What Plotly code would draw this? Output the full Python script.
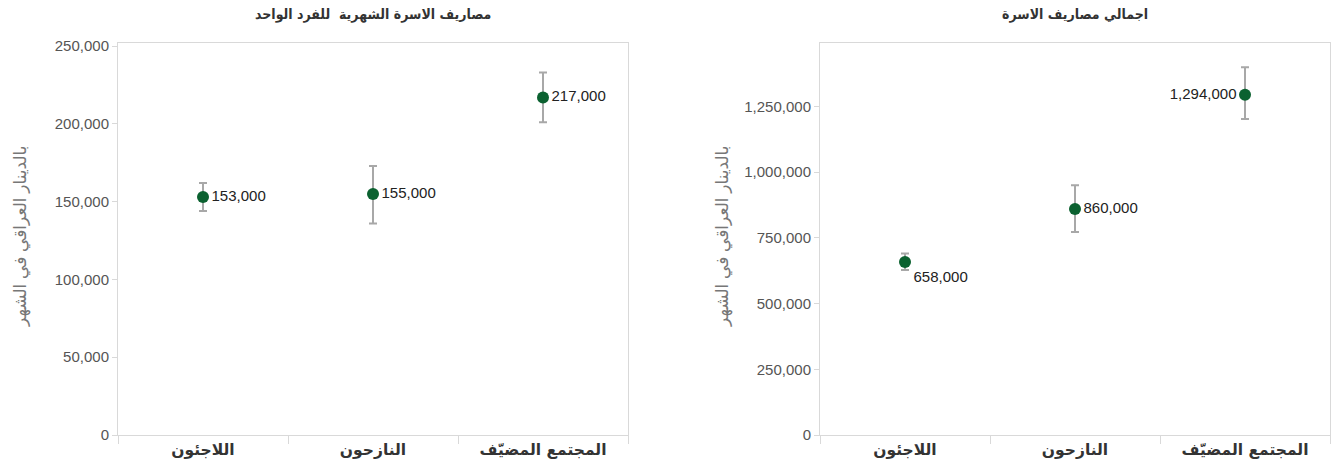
import plotly.graph_objects as go

categories = ["اللاجئون", "النازحون", "المجتمع المضيّف"]

# Per-person monthly household expenses (left panel)
per_person = [153000, 155000, 217000]
per_person_err_plus = [9000, 18000, 16000]
per_person_err_minus = [9000, 19000, 16000]
per_person_labels = ["153,000", "155,000", "217,000"]

# Total household expenses (right panel)
total = [658000, 860000, 1294000]
total_err_plus = [32000, 90000, 105000]
total_err_minus = [30000, 88000, 92000]
total_labels = ["658,000", "860,000", "1,294,000"]

left_title = "مصاريف الاسرة الشهرية  للفرد الواحد"
right_title = "اجمالي مصاريف الاسرة"
y_title = "بالدينار العراقي في الشهر"

FONT = "Arial, 'Liberation Sans', 'DejaVu Sans', sans-serif"
AR_BOLD = "'DejaVu Sans', sans-serif"
AR_COND = "'DejaVu Sans Condensed', 'DejaVu Sans', sans-serif"
GREEN = "#0b6130"
ERR = "#a8a8a8"
GRID = "#d9d9d9"

fig = go.Figure()

fig.add_trace(go.Scatter(
    x=categories, y=per_person, mode="markers+text",
    text=per_person_labels,
    textposition=["middle right", "middle right", "middle right"],
    textfont=dict(size=15, color="#222", family=FONT),
    marker=dict(size=12, color=GREEN),
    error_y=dict(type="data", symmetric=False, array=per_person_err_plus,
                 arrayminus=per_person_err_minus, color=ERR, thickness=2, width=4),
    xaxis="x", yaxis="y", showlegend=False, cliponaxis=False,
))

fig.add_trace(go.Scatter(
    x=categories, y=total, mode="markers+text",
    text=total_labels,
    textposition=["bottom right", "middle right", "middle left"],
    textfont=dict(size=15, color="#222", family=FONT),
    marker=dict(size=12, color=GREEN),
    error_y=dict(type="data", symmetric=False, array=total_err_plus,
                 arrayminus=total_err_minus, color=ERR, thickness=2, width=4),
    xaxis="x2", yaxis="y2", showlegend=False, cliponaxis=False,
))

ydom = [30 / 465, 422 / 465]
xaxis_common = dict(
    type="category", categoryorder="array", categoryarray=categories,
    tickson="boundaries", ticks="outside", ticklen=8, tickcolor=GRID,
    showline=True, linecolor=GRID, mirror=True, showgrid=False,
    tickfont=dict(size=15.5, color="#333", family=AR_BOLD), automargin=False,
    range=[-0.5, 2.5], fixedrange=True,
)
yaxis_common = dict(
    ticks="outside", ticklen=5, tickcolor=GRID, showgrid=False, zeroline=False,
    showline=True, linecolor=GRID, mirror=True, tickformat=",",
    tickfont=dict(size=15, color="#555", family=FONT), automargin=False,
    domain=ydom,
)

fig.update_layout(
    width=1338, height=465,
    margin=dict(l=0, r=0, t=0, b=0),
    paper_bgcolor="white", plot_bgcolor="white",
    font=dict(family=FONT),
    xaxis=dict(domain=[118 / 1338, 628 / 1338], anchor="y", **xaxis_common),
    yaxis=dict(anchor="x", range=[0, 252000], dtick=50000, **yaxis_common),
    xaxis2=dict(domain=[820 / 1338, 1330 / 1338], anchor="y2", **xaxis_common),
    yaxis2=dict(anchor="x2", range=[0, 1491000], dtick=250000, **yaxis_common),
)

# Bold category labels via ticktext
bold_cats = ["<b>" + c + "</b>" for c in categories]
fig.update_xaxes(tickvals=categories, ticktext=bold_cats)

fig.add_annotation(text="<b>" + left_title + "</b>", x=373 / 1338, y=1 - 15 / 465,
                   xref="paper", yref="paper", showarrow=False,
                   xanchor="center", yanchor="middle",
                   font=dict(size=14, color="#333", family=AR_COND))
fig.add_annotation(text="<b>" + right_title + "</b>", x=1075 / 1338, y=1 - 15 / 465,
                   xref="paper", yref="paper", showarrow=False,
                   xanchor="center", yanchor="middle",
                   font=dict(size=14, color="#333", family=AR_COND))
for xp in [21, 723]:
    fig.add_annotation(text=y_title, x=xp / 1338, y=1 - 236 / 465,
                       xref="paper", yref="paper", showarrow=False, textangle=-90,
                       xanchor="center", yanchor="middle",
                       font=dict(size=17, color="#777", family=FONT))

fig.write_html("out.html", config={"displayModeBar": False},
               post_script="document.body.style.margin='0';document.body.style.overflow='hidden';")
